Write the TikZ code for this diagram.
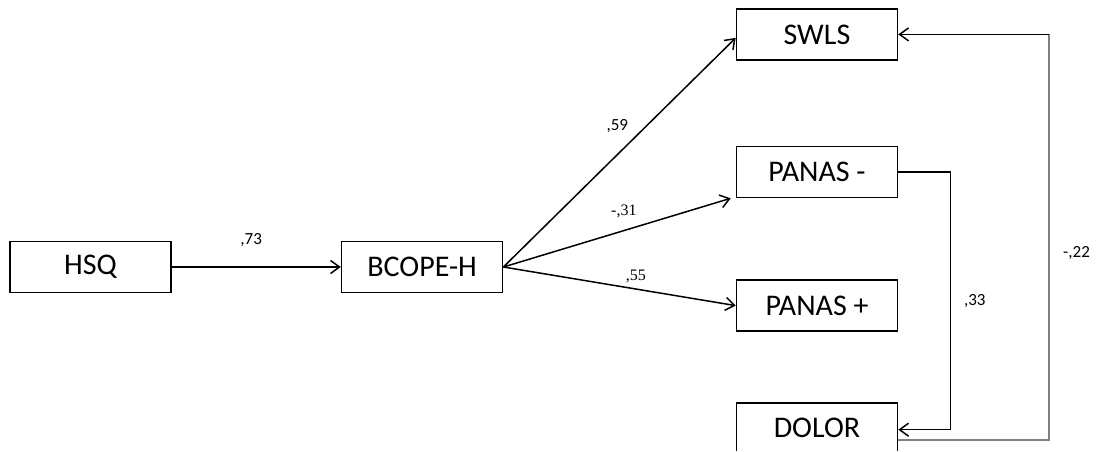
\documentclass[tikz,border=0pt]{standalone}
\usepackage{fontspec}
\setmainfont{Carlito}
\newfontfamily\coefserif{Liberation Serif}
\usetikzlibrary{arrows.meta}
\usetikzlibrary{positioning}

\begin{document}
\begin{tikzpicture}[x=1pt, y=-1pt,
    var/.style={draw, line width=1.6pt, minimum width=161pt, minimum height=51pt,
                inner sep=0pt, font=\fontsize{30}{36}\selectfont},
    link/.style={line width=1.5pt, -{Straight Barb[length=9pt,width=13pt]}},
    coef/.style={inner sep=0pt, text=black, font=\fontsize{17}{20}\selectfont},
    coefs/.style={inner sep=0pt, text=black, font=\coefserif\fontsize{16}{19}\selectfont}]
   \useasboundingbox (0,0) rectangle (1099,451);
   \clip (0,0) rectangle (1099,450);

   \node[var] (hsq) at (90.5,267) {HSQ};
   \node[var, right=169pt of hsq] (bcope) {BCOPE-H};
   \node[var] (panm) at (817,172) {PANAS -};
   \node[var, above=85pt of panm] (swls) {SWLS};
   \node[var, below=81pt of panm] (panp) {PANAS +};
   \node[var, below=70pt of panp] (dolor) {DOLOR};

   \draw[link] (hsq) -- (bcope) node[coef, pos=.47, above=20pt] {,73};
   \draw[link] (bcope.east) -- ([yshift=-3.5pt]swls.west)
      node[coef, pos=.49, above=21pt] {,59};
   \draw[link] (bcope.east) -- ([xshift=-5pt]panm.south west)
      node[coefs, pos=.53, above=12pt] {-,31};
   \draw[link] (bcope.east) -- (panp.west)
      node[coefs, pos=.57, above=5pt] {,55};

   % feedback paths on the right
   \draw[link] (panm.east) -- ++(52pt,0) |- ([yshift=-1.5pt]dolor.east)
      node[coef, pos=.25, right=13pt] {,33};
   \draw[line width=1.8pt, draw=gray] ([yshift=-11.5pt]dolor.east) -- ++(151pt,0) coordinate (turn)
      |- (swls.east) node[coef, pos=.23, right=13pt] {-,22};
   \draw[link] (turn |- swls.east) -- (swls.east);
\end{tikzpicture}
\end{document}
